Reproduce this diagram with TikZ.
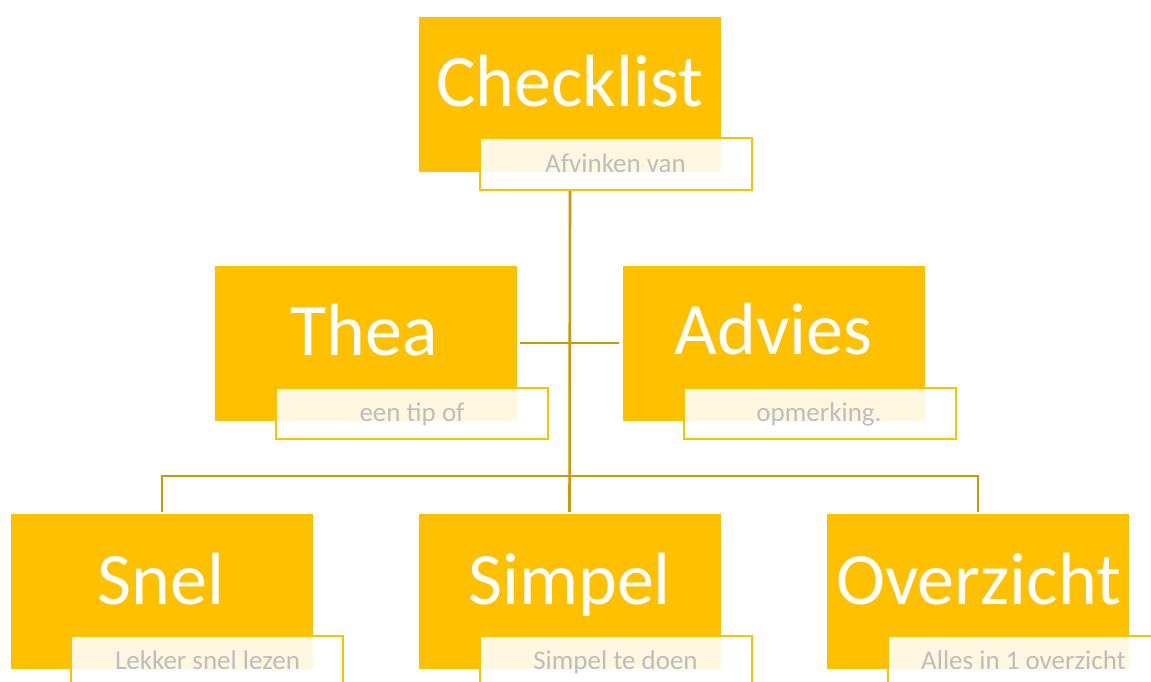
\documentclass[tikz,border=0pt]{standalone}
\usepackage{fontspec}
\setmainfont{Carlito}
\definecolor{boxyellow}{HTML}{FFC000}
\definecolor{linegold}{HTML}{C99A06}
\definecolor{labelgrey}{HTML}{BDBDBD}
\tikzset{
  mainbox/.style={rectangle, fill=boxyellow, inner sep=0pt, minimum width=302pt, minimum height=155pt},
  labelbox/.style={rectangle, draw=boxyellow, line width=2pt, fill=white, fill opacity=0.88, draw opacity=1, inner sep=0pt, minimum width=272pt, minimum height=51pt},
  maintext/.style={anchor=base, text=white, inner sep=0pt, font=\fontsize{74}{80}\selectfont},
  labeltext/.style={anchor=base, text=labelgrey, inner sep=0pt, font=\fontsize{27}{30}\selectfont},
  connector/.style={draw=linegold, line width=2.6pt}
}
\begin{document}
\begin{tikzpicture}[x=1pt,y=-1pt]
\useasboundingbox (0,0) rectangle (1151,682);
% boxes
\node[mainbox] (check) at (570,94.5) {};
\node[mainbox] (thea) at (366,343) {};
\node[mainbox] (advies) at (773.5,343) {};
\node[mainbox] (snel) at (162,591.5) {};
\node[mainbox] (simpel) at (569.5,591.5) {};
\node[mainbox] (overz) at (978,591.5) {};
% connectors
\coordinate (bus) at (570,476);
\coordinate (cstart) at (570,190);
\draw[connector] (cstart) -- ([yshift=2pt]simpel.north);
\draw[connector] ([xshift=3pt]thea.east) -- ([xshift=-3pt]advies.west);
\draw[connector] ([yshift=2pt]snel.north) |- (bus) -| ([yshift=2pt]overz.north);
% label boxes
\node[labelbox] (checkl) at (616,164) {};
\node[labelbox] (theal) at (411.5,413) {};
\node[labelbox] (adviesl) at (820,413) {};
\node[labelbox] (snell) at (207,661) {};
\node[labelbox] (simpell) at (616,661) {};
\node[labelbox] (overzl) at (1024,661) {};
% main texts
\node[maintext] (tcheck) at (570,107) {Checklist};
\node[maintext] (tthea) at (364.5,355) {Thea};
\node[maintext] (tadvies) at (773.5,354) {Advies};
\node[maintext] (tsnel) at (161,604) {Snel};
\node[maintext] (tsimpel) at (569.5,604) {Simpel};
\node[maintext] (toverz) at (978.5,604) {Overzicht};
% label texts
\node[labeltext] (lcheck) at (615.5,172) {Afvinken van};
\node[labeltext] (lthea) at (412,421) {een tip of};
\node[labeltext] (ladvies) at (819,421) {opmerking.};
\node[labeltext] (lsnel) at (207.5,669) {Lekker snel lezen};
\node[labeltext] (lsimpel) at (615.5,669) {Simpel te doen};
\node[labeltext] (loverz) at (1023.5,669) {Alles in 1 overzicht};
\end{tikzpicture}
\end{document}
